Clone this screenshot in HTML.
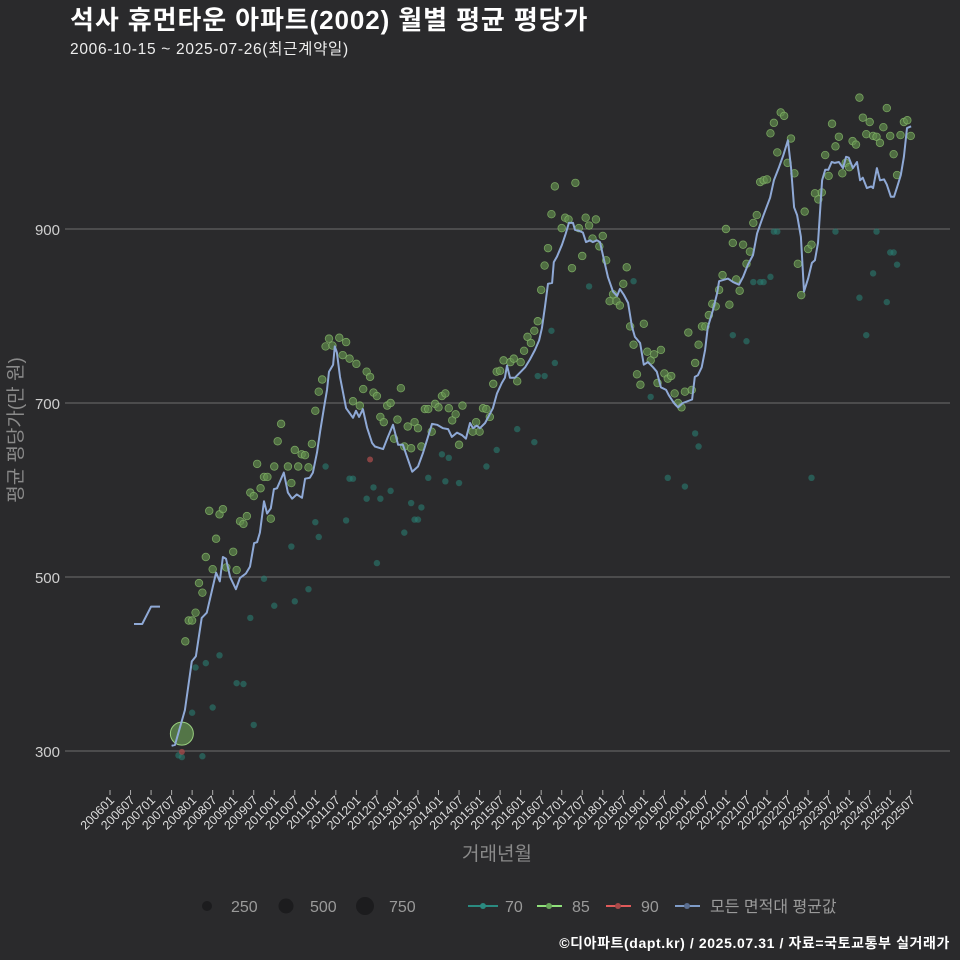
<!DOCTYPE html>
<html><head><meta charset="utf-8">
<style>
html,body{margin:0;padding:0;background:#2a2a2c;}
#wrap{position:relative;width:960px;height:960px;background:#2a2a2c;overflow:hidden;font-family:"Liberation Sans","Noto Sans CJK KR",sans-serif;}
svg text{font-family:"Liberation Sans","Noto Sans CJK KR",sans-serif;}
</style></head>
<body>
<div id="wrap">
<svg id="chart" width="960" height="960" xmlns="http://www.w3.org/2000/svg">
<text x="70" y="29" font-size="26" font-weight="bold" letter-spacing="0.9" fill="#ffffff">석사 휴먼타운 아파트(2002) 월별 평균 평당가</text>
<text x="70" y="54" font-size="15.5" letter-spacing="0.7" fill="#eeeeee">2006-10-15 ~ 2025-07-26(최근계약일)</text>
<text transform="translate(22,430) rotate(-90)" text-anchor="middle" font-size="19" fill="#8a8a8a">평균 평당가(만 원)</text>
<text x="497" y="860" text-anchor="middle" font-size="19" fill="#8a8a8a">거래년월</text>
<g id="grid"></g>
<g id="yticks"></g>
<g id="xticks"></g>
<g id="points"></g>
<g id="avgline"></g>
<g id="legend">
  <circle cx="207" cy="906" r="5" fill="#1c1c1e"/>
  <text x="231" y="912" font-size="16" fill="#9a9a9a">250</text>
  <circle cx="286" cy="906" r="7.5" fill="#1c1c1e"/>
  <text x="310" y="912" font-size="16" fill="#9a9a9a">500</text>
  <circle cx="365" cy="906" r="9" fill="#1c1c1e"/>
  <text x="389" y="912" font-size="16" fill="#9a9a9a">750</text>
  <line x1="468" y1="906" x2="498" y2="906" stroke="#2a8a80" stroke-width="2"/>
  <circle cx="483" cy="906" r="3" fill="#2a8a80"/>
  <text x="505" y="912" font-size="16" fill="#9a9a9a">70</text>
  <line x1="537" y1="906" x2="562" y2="906" stroke="#8fe07a" stroke-width="2"/>
  <circle cx="549" cy="906" r="3" fill="#6aa85a"/>
  <text x="572" y="912" font-size="16" fill="#9a9a9a">85</text>
  <line x1="606" y1="906" x2="631" y2="906" stroke="#e05a5a" stroke-width="2"/>
  <circle cx="618" cy="906" r="3" fill="#a84848"/>
  <text x="641" y="912" font-size="16" fill="#9a9a9a">90</text>
  <line x1="675" y1="906" x2="700" y2="906" stroke="#7f9cc8" stroke-width="2"/>
  <circle cx="687" cy="906" r="3" fill="#5a6e90"/>
  <text x="710" y="912" font-size="16" fill="#9a9a9a">모든 면적대 평균값</text>
</g>
<text x="950" y="948" text-anchor="end" font-size="14" font-weight="bold" letter-spacing="0.6" fill="#ffffff">©디아파트(dapt.kr) / 2025.07.31 / 자료=국토교통부 실거래가</text>
</svg>
</div>
<script>
// month index: 0 = 2006-01
const yTicks = [300, 500, 700, 900];
const xTickLabels = [];
for (let y = 2006; y <= 2025; y++) { xTickLabels.push(y + '01'); xTickLabels.push(y + '07'); }

const avgMonthsA = [7.0, 9.4, 12.0, 14.6];
const avgValuesA = [446, 446, 466, 466];

const avgMonths = [18.0,19.0,21.9,23.9,25.1,26.8,28.3,31.0,32.1,33.0,33.9,35.1,36.8,38.0,39.7,40.9,42.1,43.0,43.8,45.0,45.9,47.0,47.9,48.8,50.8,52.0,53.2,54.6,56.1,57.0,58.4,59.3,60.5,61.4,62.5,63.4,64.0,65.2,65.7,66.3,67.2,69.0,71.0,71.9,72.8,73.9,75.1,76.6,77.4,79.8,81.2,82.7,84.2,85.6,88.3,90.0,91.5,94.1,95.6,97.3,98.8,99.9,101.4,102.9,104.0,105.2,106.1,107.2,108.1,109.6,111.9,113.1,114.5,115.4,116.0,116.9,118.3,119.8,121.3,122.7,124.2,125.4,126.2,127.1,128.0,129.2,129.7,130.6,132.1,133.2,134.1,135.3,135.9,137.0,138.2,139.1,140.3,141.1,142.3,143.2,144.4,145.5,147.0,148.2,149.0,150.2,151.4,152.5,153.4,154.9,156.0,157.2,158.7,159.8,161.0,162.5,163.3,164.8,166.0,167.4,170.1,170.9,171.8,172.9,173.9,174.7,176.2,177.4,178.0,180.6,182.1,183.8,185.0,186.4,187.9,189.1,190.8,192.9,194.0,195.5,196.7,198.1,199.0,199.9,200.8,201.9,202.8,204.0,205.1,206.0,206.9,208.1,209.0,209.9,210.9,211.8,213.0,214.2,215.1,215.9,217.1,218.3,219.2,220.0,221.2,222.4,223.0,224.1,225.0,226.2,227.0,228.2,229.1,230.0,231.1,232.0,232.9,234.1];
const avgValues = [306,307,347,403,409,453,459,505,495,523,521,500,486,499,504,512,539,540,551,587,573,579,601,602,620,597,590,595,591,613,614,620,643,667,694,715,736,744,765,758,730,694,683,691,684,693,672,654,650,647,661,675,652,652,621,627,643,676,675,671,670,661,666,663,659,677,671,674,671,677,694,711,723,729,743,729,729,735,741,750,761,772,786,810,837,838,862,868,882,895,907,907,899,898,896,885,887,885,887,885,864,845,828,823,831,824,815,788,776,769,744,747,741,736,718,715,709,700,695,700,704,730,732,741,761,787,807,826,840,843,839,836,845,859,870,895,914,936,956,971,984,1002,971,925,916,891,828,843,861,864,884,956,968,968,977,976,977,970,983,982,970,977,956,959,947,949,947,970,956,957,951,937,937,948,962,983,1016,1018];

const g85Months = [22,23,24,25,26,27,28,29,30,31,32,33,34,36,37,38,39,40,41,42,43,44,45,46,47,48,49,50,52,53,54,55,56,57,58,59,60,61,62,63,64,65,67,69,68,70,72,75,76,74,77,78,71,73,79,80,81,82,85,84,83,86,87,88,89,90,91,92,93,94,95,96,97,98,99,100,101,102,103,106,107,108,109,110,111,112,113,114,115,117,118,119,120,121,122,123,124,125,126,127,128,129,130,132,133,134,135,136,137,138,139,140,141,142,143,144,145,146,147,148,149,150,151,152,153,154,155,156,157,158,159,160,161,162,163,164,165,166,167,168,169,170,171,172,173,174,175,176,177,178,179,181,182,183,184,180,185,186,187,188,189,190,191,192,193,194,195,196,197,198,199,200,203,201,202,204,205,206,207,208,209,210,211,212,213,214,215,216,217,218,219,220,221,222,223,224,225,226,227,228,229,230,231,232,233,234];
const g85Values = [426,450,450,459,493,482,523,576,509,544,572,578,511,529,508,564,561,570,597,593,630,602,615,615,567,627,656,676,627,608,646,627,641,640,626,653,691,713,727,765,774,766,775,770,755,751,745,736,730,716,712,708,702,697,684,678,697,700,717,681,659,650,673,648,678,671,650,693,693,667,699,695,708,711,694,680,687,652,697,667,678,667,694,693,684,722,736,737,749,747,751,725,747,760,776,769,783,794,830,858,878,917,949,901,913,911,855,953,901,869,913,904,889,911,880,892,864,817,825,817,812,837,856,788,767,733,721,791,759,749,756,723,761,734,728,731,711,700,695,713,781,715,746,767,788,788,801,814,811,830,847,813,884,842,829,900,882,860,874,907,916,954,956,957,1010,1022,988,1034,1030,976,1004,964,920,860,824,877,882,941,934,942,985,961,1021,995,1006,964,976,971,1001,997,1051,1028,1009,1023,1007,1006,999,1017,1039,1007,986,962,1008,1023,1025,1007];

const t70Months = [24,25,28,32,30,37,39,42,41,45,48,53,54,58,60,61,63,69,70,71,75,77,79,78,82,86,88,89,90,20,21,27,93,98,102,97,99,91,110,113,119,124,125,127,129,130,140,153,158,163,168,171,172,182,186,188,190,191,193,194,195,212,219,221,223,224,227,228,229,230,205];
const t70Values = [344,396,401,410,350,378,377,330,453,498,467,535,472,486,563,546,627,565,613,613,590,603,590,516,599,551,585,566,566,295,293,294,614,610,608,641,637,580,627,646,670,655,731,731,783,746,834,840,707,614,604,665,650,778,771,839,839,839,845,897,897,897,821,778,849,897,816,873,873,859,614];

const r90Months = [21, 76];
const r90Values = [299, 635];

const bigMonths = [21];
const bigValues = [320];

const NS = 'http://www.w3.org/2000/svg';
const X0 = 110, PXM = 3.422;
function xScale(m) { return X0 + m * PXM; }
function yScale(v) { return 751 - (v - 300) * 0.87; }
function mk(tag, attrs, parent) {
  const el = document.createElementNS(NS, tag);
  for (const k in attrs) el.setAttribute(k, attrs[k]);
  parent.appendChild(el);
  return el;
}

const grid = document.getElementById('grid');
const yt = document.getElementById('yticks');
yTicks.forEach(v => {
  const l = mk('line', {x1: 65, x2: 950, y1: yScale(v), y2: yScale(v), stroke: '#6e6e6e', 'stroke-width': 1}, grid);
  
  
  const t = mk('text', {x: 60, y: yScale(v) + 6, 'text-anchor': 'end', 'font-size': 15, fill: '#cfcfcf'}, yt);
  t.textContent = v;
  
  
});

const xt = document.getElementById('xticks');
xTickLabels.forEach((lab, i) => {
  const x = xScale(i * 6);
  const tk = mk('line', {x1: x, x2: x, y1: 790, y2: 795, stroke: '#aaaaaa', 'stroke-width': 1}, xt);
  
  
  const t = mk('text', {x: 0, y: 0, 'text-anchor': 'end', 'font-size': 12.5, fill: '#dddddd', transform: 'translate(' + (x + 5) + ',801) rotate(-45)'}, xt);
  t.textContent = lab;
  
  
});

const pts = document.getElementById('points');
t70Months.forEach((m, i) => {
  const c = mk('circle', {cx: xScale(m), cy: yScale(t70Values[i]), r: 3.2, fill: '#2a7d72', 'fill-opacity': 0.6}, pts);
  
  
});
g85Months.forEach((m, i) => {
  const c = mk('circle', {cx: xScale(m), cy: yScale(g85Values[i]), r: 3.8, fill: '#5f8a4c', 'fill-opacity': 0.7, stroke: '#86b86a', 'stroke-width': 0.8, 'stroke-opacity': 0.8}, pts);
  
  
});
r90Months.forEach((m, i) => {
  const c = mk('circle', {cx: xScale(m), cy: yScale(r90Values[i]), r: 3, fill: '#a04a4a', 'fill-opacity': 0.8}, pts);
  
  
});
bigMonths.forEach((m, i) => {
  const c = mk('circle', {cx: xScale(m), cy: yScale(bigValues[i]), r: 11.5, fill: '#6fa85a', 'fill-opacity': 0.6, stroke: '#9ad080', 'stroke-width': 1}, pts);
  
  
});

const al = document.getElementById('avgline');
function drawLine(ms, vs, name) {
  const d = ms.map((m, i) => (i ? 'L' : 'M') + xScale(m).toFixed(1) + ',' + yScale(vs[i]).toFixed(1)).join('');
  const p = mk('path', {d: d, fill: 'none', stroke: '#8fa9d6', 'stroke-width': 2, 'stroke-linejoin': 'round'}, al);
  
  
}
drawLine(avgMonthsA, avgValuesA, 'average-line-early');
drawLine(avgMonths, avgValues, 'average-line-main');
</script>
</body></html>
